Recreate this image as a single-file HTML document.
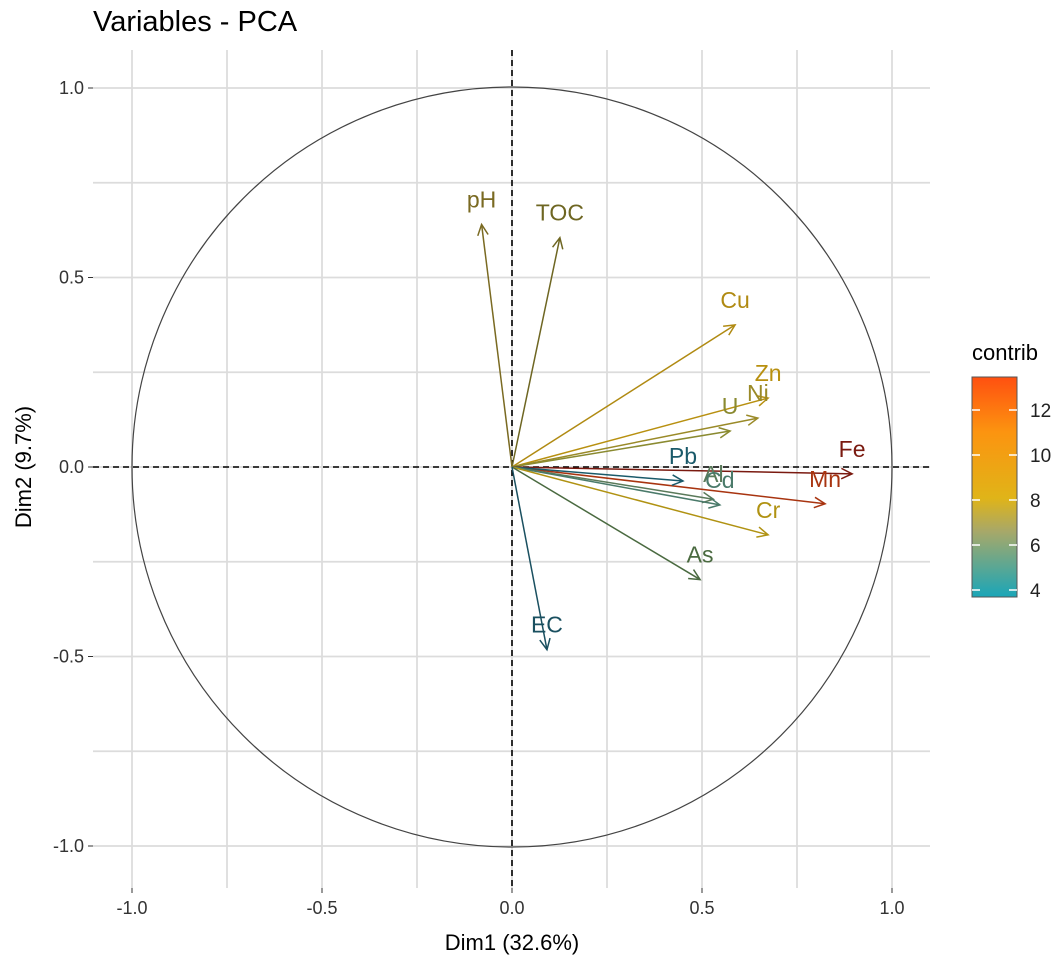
<!DOCTYPE html>
<html><head><meta charset="utf-8"><style>
body{margin:0;background:#fff;font-family:"Liberation Sans",Arial,sans-serif}
svg text{font-family:"Liberation Sans",Arial,sans-serif}
</style></head><body>
<svg id="chart" width="1063" height="971" xmlns="http://www.w3.org/2000/svg">
<defs>
<linearGradient id="cg" x1="0" y1="1" x2="0" y2="0">
<stop offset="0" stop-color="#1aa6b8"/><stop offset="0.3" stop-color="#a8a868"/><stop offset="0.45" stop-color="#e0b418"/><stop offset="0.75" stop-color="#fc9410"/><stop offset="1" stop-color="#ff5010"/>
</linearGradient>
</defs>
<text x="93" y="31" font-size="29" fill="#000">Variables - PCA</text>
<g id="grid"></g>
<g id="axes"></g>
<g id="marks"></g>
<text x="512" y="950" font-size="22" text-anchor="middle" fill="#000">Dim1 (32.6%)</text>
<text transform="translate(31,467) rotate(-90)" font-size="22" text-anchor="middle" fill="#000">Dim2 (9.7%)</text>
<g>
<text x="972" y="360" font-size="22" fill="#000">contrib</text>
<rect x="972" y="377" width="45" height="220" fill="url(#cg)" stroke="#555" stroke-width="1"/>
<g id="legticks"></g>
</g>
</svg>
<script>
const names=["pH","TOC","Cu","Zn","Ni","U","Fe","Mn","Pb","Al","Cd","Cr","As","EC"];
const dim1=[-0.08,0.126,0.587,0.674,0.647,0.574,0.895,0.824,0.45,0.53,0.547,0.674,0.495,0.092];
const dim2=[0.64,0.605,0.375,0.182,0.129,0.095,-0.018,-0.097,-0.037,-0.085,-0.1,-0.179,-0.297,-0.482];
const colors=["#7a6a22","#6e6622","#b08a12","#b89010","#9a8a28","#8a8a30","#7a1a10","#a83410","#1a5a6a","#5a7a5a","#4a7a6a","#b09212","#4a6a40","#1a5060"];
const ticks=[-1,-0.5,0,0.5,1];
const tickLabels=["-1.0","-0.5","0.0","0.5","1.0"];
const legTicks=[4,6,8,10,12];
const NS="http://www.w3.org/2000/svg";
const L=93,R=930,T=50,B=888;
const sx=v=>512+v*380, sy=v=>467-v*379;
const cy=v=>590-(v-4)*22.5;
function mk(t,a,p){const e=document.createElementNS(NS,t);for(const k in a)e.setAttribute(k,a[k]);p.appendChild(e);return e;}
const grid=document.getElementById('grid'),axes=document.getElementById('axes'),marks=document.getElementById('marks');
mk('rect',{x:L,y:T,width:R-L,height:B-T,fill:'#fff'},grid);
for(let v=-1;v<=1.001;v+=0.25){
 const gx=mk('line',{x1:sx(v),x2:sx(v),y1:T,y2:B,stroke:'#dcdcdc','stroke-width':1.8},grid);
 
 const gy=mk('line',{x1:L,x2:R,y1:sy(v),y2:sy(v),stroke:'#dcdcdc','stroke-width':1.8},grid);
 
}
ticks.forEach((v,i)=>{
 mk('line',{x1:sx(v),x2:sx(v),y1:B,y2:B+5,stroke:'#333'},axes);
 const tx=mk('text',{x:sx(v),y:B+26,'font-size':18,'text-anchor':'middle',fill:'#333'},axes);tx.textContent=tickLabels[i];
 
 mk('line',{x1:L-5,x2:L,y1:sy(v),y2:sy(v),stroke:'#333'},axes);
 const ty=mk('text',{x:L-9,y:sy(v)+6,'font-size':18,'text-anchor':'end',fill:'#333'},axes);ty.textContent=tickLabels[i];
 
});
const circ=mk('circle',{cx:sx(0),cy:sy(0),r:380,fill:'none',stroke:'#444','stroke-width':1.2},marks);

mk('line',{x1:L,x2:R,y1:sy(0),y2:sy(0),stroke:'#000','stroke-dasharray':'6,4','stroke-width':1.6},marks);
mk('line',{x1:sx(0),x2:sx(0),y1:T,y2:B,stroke:'#000','stroke-dasharray':'6,4','stroke-width':1.6},marks);
names.forEach((n,i)=>{
 const x0=sx(0),y0=sy(0),x1=sx(dim1[i]),y1=sy(dim2[i]);
 const g=mk('g',{},marks);
 
 
 mk('line',{x1:x0,y1:y0,x2:x1,y2:y1,stroke:colors[i],'stroke-width':1.5},g);
 const a=Math.atan2(y1-y0,x1-x0),h=12,s=0.45;
 const p=`M${x1-h*Math.cos(a-s)},${y1-h*Math.sin(a-s)} L${x1},${y1} L${x1-h*Math.cos(a+s)},${y1-h*Math.sin(a+s)}`;
 mk('path',{d:p,fill:'none',stroke:colors[i],'stroke-width':1.5},g);
 const t=mk('text',{x:x1,y:y1-17,'font-size':23,'text-anchor':'middle',fill:colors[i]},g);t.textContent=n;
 
});
const lt=document.getElementById('legticks');
legTicks.forEach(v=>{
 mk('line',{x1:972,x2:980,y1:cy(v),y2:cy(v),stroke:'#fff','stroke-width':1.5},lt);
 mk('line',{x1:1009,x2:1017,y1:cy(v),y2:cy(v),stroke:'#fff','stroke-width':1.5},lt);
 const t=mk('text',{x:1030,y:cy(v)+7,'font-size':19,fill:'#222'},lt);t.textContent=v;
 
});
</script>
</body></html>
